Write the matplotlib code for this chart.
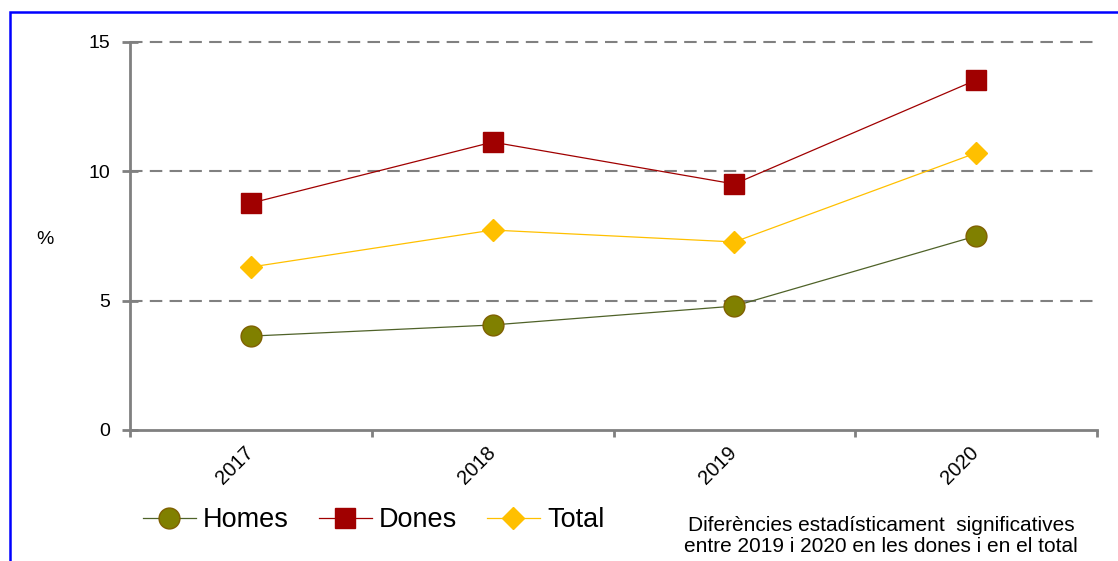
import matplotlib.pyplot as plt
from matplotlib.patches import Rectangle
from matplotlib.transforms import ScaledTranslation

plt.rcParams['font.family'] = ['Liberation Sans', 'DejaVu Sans']

years = ['2017', '2018', '2019', '2020']
homes = [3.63, 4.06, 4.79, 7.50]
dones = [8.77, 11.13, 9.51, 13.53]
total = [6.30, 7.73, 7.27, 10.71]
yticks = [0, 5, 10, 15]

W, H = 1118, 561
fig = plt.figure(figsize=(W / 100, H / 100), dpi=100)
ax = fig.add_axes([130 / W, 1 - 430 / H, (1097 - 130) / W, (430 - 42) / H])

xpos = [i + 0.5 for i in range(len(years))]
ax.plot(xpos, homes, color='#4F6228', lw=0.9, marker='o', ms=15,
        mfc='#808000', mec='#7F6000', mew=1, label='Homes', zorder=3)
ax.plot(xpos, dones, color='#A00000', lw=0.9, marker='s', ms=15,
        mfc='#A00000', mec='#A00000', mew=1, label='Dones', zorder=3)
ax.plot(xpos, total, color='#FFC000', lw=0.9, marker='D', ms=11.5,
        mfc='#FFC000', mec='#FFC000', mew=1, label='Total', zorder=3)

ax.set_xlim(0, len(years))
ax.set_ylim(0, 15)
ax.set_yticks(yticks)
ax.set_yticklabels([str(v) for v in yticks], fontsize=14)
ax.set_xticks(range(len(years) + 1))
ax.set_xticklabels([])
ax.set_xticks(xpos, minor=True)
ax.set_xticklabels(years, minor=True, rotation=45, ha='right', va='top',
                   rotation_mode='anchor', fontsize=14.5)
ax.tick_params(axis='x', which='minor', length=0, pad=9)
ax.tick_params(axis='x', which='major', direction='out', length=5,
               width=2, color='#808080')
ax.tick_params(axis='y', direction='inout', length=12, width=2,
               color='#808080', pad=8)
shift = ScaledTranslation(-7 / 100, 0, fig.dpi_scale_trans)
for lbl in ax.get_xticklabels(minor=True):
    lbl.set_transform(lbl.get_transform() + shift)

for v in yticks[1:]:
    ax.axhline(v, color='#808080', lw=1.5, dashes=(6, 3.5), zorder=1,
               clip_on=False)

for s in ['top', 'right']:
    ax.spines[s].set_visible(False)
for s in ['left', 'bottom']:
    ax.spines[s].set_color('#808080')
    ax.spines[s].set_linewidth(2)

fig.text(45 / W, 1 - 240 / H, '%', fontsize=14, ha='center', va='center')

fig.legend(loc='center left', bbox_to_anchor=(143 / W, 1 - 520 / H), ncol=3,
           frameon=False, fontsize=19.5, handlelength=1.95, handletextpad=0.27,
           columnspacing=1.1, borderaxespad=0, borderpad=0)

fig.text(881 / W, 1 - 536 / H,
         'Diferències estadísticament  significatives\n'
         'entre 2019 i 2020 en les dones i en el total',
         fontsize=15, ha='center', va='center', linespacing=1.1)

fig.patches.append(Rectangle((10 / W, -0.1), 1.2, 1 - 12 / H + 0.1,
                             transform=fig.transFigure, fill=False,
                             edgecolor='#0000FF', lw=1.8))

fig.savefig('out.png', dpi=100)
